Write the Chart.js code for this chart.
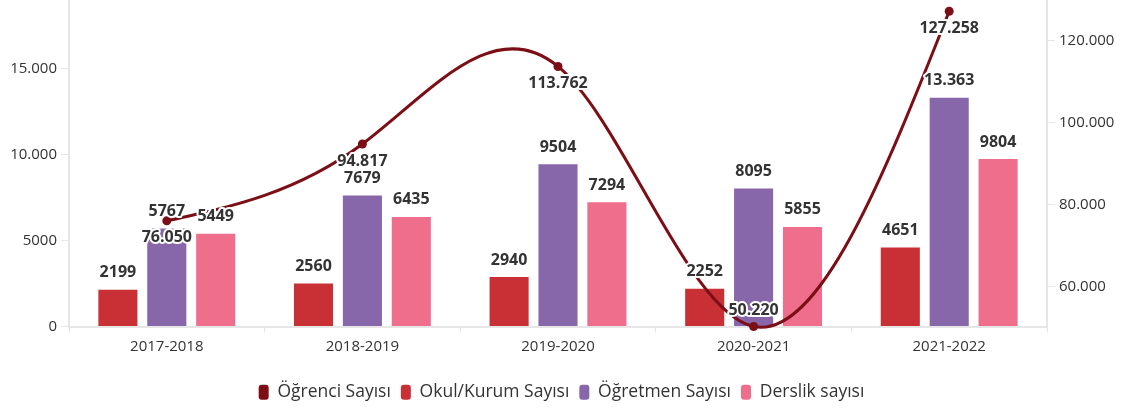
<!DOCTYPE html>
<html>
<head>
<meta charset="utf-8">
<script src="https://cdn.jsdelivr.net/npm/chart.js@4/dist/chart.umd.min.js"></script>
<style>
  html, body { margin: 0; padding: 0; background: #fff; }
</style>
</head>
<body>
<canvas id="chart" width="1123" height="409"></canvas>
<script>
// data
const years = ['2017-2018', '2018-2019', '2019-2020', '2020-2021', '2021-2022'];
const ogrenci = [76050, 94817, 113762, 50220, 127258];   // right axis
const okul = [2199, 2560, 2940, 2252, 4651];
const ogretmen = [5767, 7679, 9504, 8095, 13363];
const derslik = [5449, 6435, 7294, 5855, 9804];
const leftTicks = [0, 5000, 10000, 15000];
const rightTicks = [60000, 80000, 100000, 120000];

const FONT = "'Open Sans', 'Noto Sans', sans-serif";
const axisColor = '#e6e6e6';

// 4-digit numbers have no separator, larger ones use dots
function fmt(v) {
  if (Math.abs(v) < 10000) return String(v);
  return String(v).replace(/\B(?=(\d{3})+(?!\d))/g, '.');
}

// natural cubic spline control points (same idea as d3.curveNatural)
function naturalCP(x) {
  const n = x.length - 1;
  const a = new Array(n), b = new Array(n), r = new Array(n);
  a[0] = 0; b[0] = 2; r[0] = x[0] + 2 * x[1];
  for (let i = 1; i < n - 1; ++i) { a[i] = 1; b[i] = 4; r[i] = 4 * x[i] + 2 * x[i + 1]; }
  a[n - 1] = 2; b[n - 1] = 7; r[n - 1] = 8 * x[n - 1] + x[n];
  for (let i = 1; i < n; ++i) {
    const m = a[i] / b[i - 1];
    b[i] -= m;
    r[i] -= m * r[i - 1];
  }
  a[n - 1] = r[n - 1] / b[n - 1];
  for (let i = n - 2; i >= 0; --i) a[i] = (r[i] - a[i + 1]) / b[i];
  b[n - 1] = (x[n] + a[n - 1]) / 2;
  for (let i = 0; i < n - 1; ++i) b[i] = 2 * x[i + 1] - a[i + 1];
  return [a, b];
}

// swap chart.js bezier control points for a natural spline
const naturalSpline = {
  id: 'naturalSpline',
  beforeDatasetDraw(chart, args) {
    const meta = args.meta;
    if (meta.type !== 'line') return;
    const pts = meta.data;
    if (pts.length < 3) return;
    const [ax, bx] = naturalCP(pts.map(p => p.x));
    const [ay, by] = naturalCP(pts.map(p => p.y));
    for (let i = 0; i < pts.length - 1; i++) {
      pts[i].cp2x = ax[i]; pts[i].cp2y = ay[i];
      pts[i + 1].cp1x = bx[i]; pts[i + 1].cp1y = by[i];
    }
    pts[0].cp1x = pts[0].x; pts[0].cp1y = pts[0].y;
    const last = pts[pts.length - 1];
    last.cp2x = last.x; last.cp2y = last.y;
    meta.dataset._pointsUpdated = true;
    meta.dataset._path = undefined;
  }
};

// simple value labels with a white halo
const valueLabels = {
  id: 'valueLabels',
  afterDatasetsDraw(chart) {
    const ctx = chart.ctx;
    const area = chart.chartArea;
    ctx.save();
    ctx.font = 'bold 16px ' + FONT;
    ctx.textAlign = 'center';
    ctx.textBaseline = 'middle';
    ctx.lineJoin = 'round';
    chart.data.datasets.forEach((ds, i) => {
      const meta = chart.getDatasetMeta(i);
      meta.data.forEach((el, j) => {
        const txt = fmt(ds.data[j]);
        let y;
        if (ds.type === 'line') {
          y = el.y + 17;
          if (y > area.bottom - 8) y = el.y - 16;
        } else {
          y = el.y - 16;
        }
        ctx.strokeStyle = '#ffffff';
        ctx.lineWidth = 4;
        ctx.strokeText(txt, el.x, y);
        ctx.fillStyle = '#333333';
        ctx.fillText(txt, el.x, y);
      });
    });
    ctx.restore();
  }
};

// y axes: no extra room for half tick labels at the ends
function noPad(s) {
  s.paddingTop = 0;
  s.paddingBottom = 0;
}

const ctx = document.getElementById('chart').getContext('2d');
const chart = new Chart(ctx, {
  data: {
    labels: years,
    datasets: [{
      type: 'line',
      label: 'Öğrenci Sayısı',
      data: ogrenci,
      yAxisID: 'y1',
      borderColor: '#7b0f15',
      backgroundColor: '#7b0f15',
      borderWidth: 3,
      tension: 0.4,
      clip: 8,
      pointRadius: 4.5,
      pointBackgroundColor: '#7b0f15',
      pointBorderWidth: 0
    }, {
      type: 'bar',
      label: 'Okul/Kurum Sayısı',
      data: okul,
      yAxisID: 'y',
      backgroundColor: '#c83036',
      borderColor: 'rgba(255,255,255,0.45)',
      borderWidth: 1
    }, {
      type: 'bar',
      label: 'Öğretmen Sayısı',
      data: ogretmen,
      yAxisID: 'y',
      backgroundColor: '#8766aa',
      borderColor: 'rgba(255,255,255,0.45)',
      borderWidth: 1
    }, {
      type: 'bar',
      label: 'Derslik sayısı',
      data: derslik,
      yAxisID: 'y',
      backgroundColor: '#ef6e8c',
      borderColor: 'rgba(255,255,255,0.45)',
      borderWidth: 1
    }]
  },
  options: {
    responsive: false,
    animation: false,
    datasets: {
      bar: { categoryPercentage: 0.75, barPercentage: 0.84 }
    },
    layout: { autoPadding: false, padding: { top: 0, left: 0, right: 0, bottom: -2 } },
    scales: {
      x: {
        afterFit: s => { s.height += 13; },
        grid: { drawOnChartArea: false, drawTicks: true, tickLength: 6, color: axisColor },
        border: { color: axisColor, width: 2 },
        ticks: { color: '#333', font: { family: FONT, size: 15 }, padding: 5 }
      },
      y: {
        position: 'left',
        min: 0,
        max: 19000,
        afterBuildTicks: s => { s.ticks = leftTicks.map(v => ({ value: v })); },
        afterFit: s => { s.width = 69; noPad(s); },
        grid: { drawOnChartArea: false, drawTicks: true, tickLength: 8, color: axisColor },
        border: { color: axisColor, width: 2 },
        ticks: { color: '#333', font: { family: FONT, size: 15 }, padding: 4, callback: v => fmt(v) }
      },
      y1: {
        position: 'right',
        min: 50220,
        max: 130000,
        afterBuildTicks: s => { s.ticks = rightTicks.map(v => ({ value: v })); },
        afterFit: s => { s.width = 76; noPad(s); },
        grid: { drawOnChartArea: false, drawTicks: true, tickLength: 8, color: axisColor },
        border: { color: axisColor, width: 2 },
        ticks: { color: '#333', font: { family: FONT, size: 15 }, padding: 4, callback: v => fmt(v) }
      }
    },
    plugins: {
      tooltip: { enabled: false },
      legend: {
        position: 'bottom',
        labels: {
          color: '#333',
          font: { family: FONT, size: 17.5 },
          boxWidth: 10,
          boxHeight: 15,
          padding: 10,
          useBorderRadius: true,
          borderRadius: 3,
          generateLabels: c => Chart.defaults.plugins.legend.labels.generateLabels(c).map(l => {
            l.strokeStyle = l.fillStyle;
            l.lineWidth = 0;
            return l;
          })
        }
      }
    }
  },
  plugins: [naturalSpline, valueLabels]
});
</script>
</body>
</html>
